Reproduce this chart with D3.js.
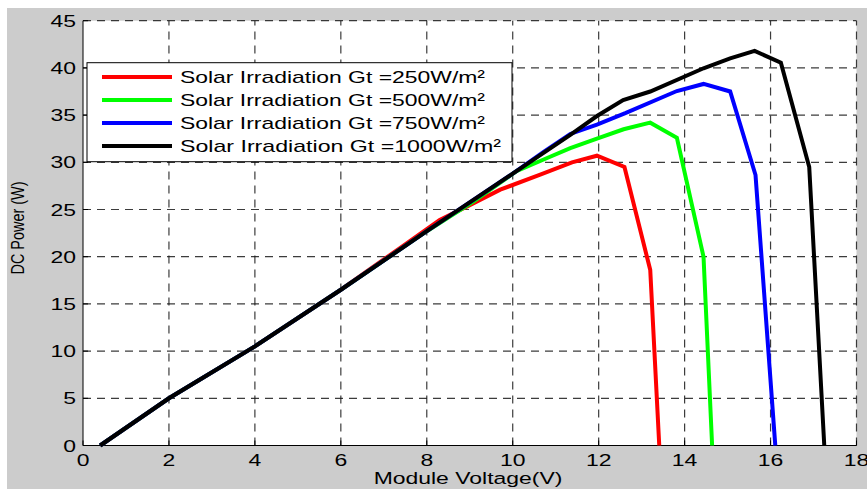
<!DOCTYPE html>
<html><head><meta charset="utf-8">
<script src="https://cdn.jsdelivr.net/npm/d3@7"></script>
<style>body{margin:0;background:#fff}svg{display:block}text{font-family:"Liberation Sans",Arial,sans-serif}</style>
</head><body>
<svg id="c" width="867" height="489"></svg>
<script>
const xTicks = [0, 2, 4, 6, 8, 10, 12, 14, 16, 18];
const yTicks = [0, 5, 10, 15, 20, 25, 30, 35, 40, 45];
const seriesNames = [
  "Solar Irradiation Gt =250W/m²",
  "Solar Irradiation Gt =500W/m²",
  "Solar Irradiation Gt =750W/m²",
  "Solar Irradiation Gt =1000W/m²"
];
const seriesColors = ["#ff0000", "#00ff00", "#0000ff", "#000000"];
// voltage (V), power (W)
const commonPart = [[0.4, 0], [2, 5.0], [4, 10.5], [6, 16.5]];
const g250 = [[7.4, 21.0], [8.3, 23.9], [8.93, 25.3], [9.71, 27.1], [10.64, 28.7], [11.38, 30.0], [11.96, 30.7], [12.6, 29.5], [13.2, 18.6], [13.41, 0]];
const g500 = [[8, 22.7], [9.1, 25.9], [10.1, 29.1], [10.72, 30.3], [11.34, 31.5], [11.96, 32.5], [12.58, 33.5], [13.2, 34.2], [13.82, 32.6], [14.44, 20.0], [14.64, 0]];
const g750 = [[8, 22.7], [10.0, 28.8], [10.72, 31.1], [11.34, 33.0], [11.96, 34.0], [12.62, 35.2], [13.82, 37.55], [14.44, 38.3], [15.06, 37.5], [15.65, 28.65], [16.11, 0]];
const g1000 = [[8, 22.7], [10.0, 28.8], [11.34, 32.9], [11.96, 34.9], [12.57, 36.6], [13.2, 37.5], [14.44, 39.96], [15.06, 41.0], [15.63, 41.8], [16.24, 40.55], [16.9, 29.5], [17.25, 0]];
const xLabel = "Module Voltage(V)";
const yLabel = "DC Power (W)";

const series = [g250, g500, g750, g1000].map(t => commonPart.concat(t));

const svg = d3.select("#c");
const x = d3.scaleLinear().domain([0, 18]).range([83, 856.5]);
const y = d3.scaleLinear().domain([0, 45]).range([445.5, 20.7]);
const SX = 1.35;

svg.append("rect").attr("x", 7).attr("y", 8).attr("width", 860).attr("height", 481).attr("fill", "#cccccc");
svg.append("rect").attr("x", x(0)).attr("y", y(45)).attr("width", x(18) - x(0)).attr("height", y(0) - y(45)).attr("fill", "#fff");

// grid
const grid = svg.append("g").attr("stroke", "#1a1a1a").attr("stroke-opacity", 0.85).attr("stroke-width", 1.2).attr("stroke-dasharray", "8,6");
grid.selectAll("line.v").data(xTicks.filter(d => d > 0)).enter().append("line")
  .attr("x1", d => x(d)).attr("x2", d => x(d)).attr("y1", y(0)).attr("y2", y(45));
grid.selectAll("line.h").data(yTicks.filter(d => d > 0)).enter().append("line")
  .attr("x1", x(0)).attr("x2", x(18)).attr("y1", d => y(d)).attr("y2", d => y(d));

// axes lines + inward ticks
const ax = svg.append("g").attr("stroke", "#000").attr("stroke-width", 1);
ax.append("line").attr("x1", x(0)).attr("x2", x(0)).attr("y1", y(0)).attr("y2", y(45));
ax.append("line").attr("x1", x(0)).attr("x2", x(18)).attr("y1", y(0)).attr("y2", y(0));
ax.selectAll("line.yt").data(yTicks).enter().append("line")
  .attr("x1", x(0)).attr("x2", x(0) + 5).attr("y1", d => y(d)).attr("y2", d => y(d));
ax.selectAll("line.xt").data(xTicks).enter().append("line")
  .attr("x1", d => x(d)).attr("x2", d => x(d)).attr("y1", y(0)).attr("y2", y(0) - 5);

// tick labels
svg.selectAll("text.yl").data(yTicks).enter().append("text")
  .attr("transform", d => `translate(76,${y(d) + 6}) scale(${SX},1)`)
  .attr("text-anchor", "end").attr("font-size", 17).text(d => d);
svg.selectAll("text.xl").data(xTicks).enter().append("text")
  .attr("transform", d => `translate(${x(d)},466) scale(${SX},1)`)
  .attr("text-anchor", "middle").attr("font-size", 17).text(d => d);

svg.append("text").attr("transform", `translate(468,484) scale(${SX},1)`)
  .attr("text-anchor", "middle").attr("font-size", 17).text(xLabel);
svg.append("text").attr("transform", `translate(24,228) rotate(-90) scale(1,${SX})`)
  .attr("text-anchor", "middle").attr("font-size", 13).attr("textLength", 93)
  .attr("lengthAdjust", "spacingAndGlyphs").text(yLabel);

// lines
const line = d3.line().x(d => x(d[0])).y(d => y(d[1]));
svg.selectAll("path.s").data(series).enter().append("path")
  .attr("d", line).attr("fill", "none")
  .attr("stroke", (d, i) => seriesColors[i]).attr("stroke-width", 4)
  .attr("stroke-linejoin", "miter");

// legend
const lg = svg.append("g");
lg.append("rect").attr("x", 87).attr("y", 62.7).attr("width", 425).attr("height", 99)
  .attr("fill", "#fff").attr("stroke", "#000").attr("stroke-width", 1);
const lw = [305, 305, 305, 321];
seriesNames.forEach((n, i) => {
  const cy = 77 + i * 23;
  lg.append("line").attr("x1", 102).attr("x2", 172).attr("y1", cy).attr("y2", cy)
    .attr("stroke", seriesColors[i]).attr("stroke-width", 4);
  lg.append("text").attr("x", 180).attr("y", cy + 6).attr("font-size", 17)
    .attr("textLength", lw[i]).attr("lengthAdjust", "spacingAndGlyphs").text(n);
});
</script>
</body></html>
